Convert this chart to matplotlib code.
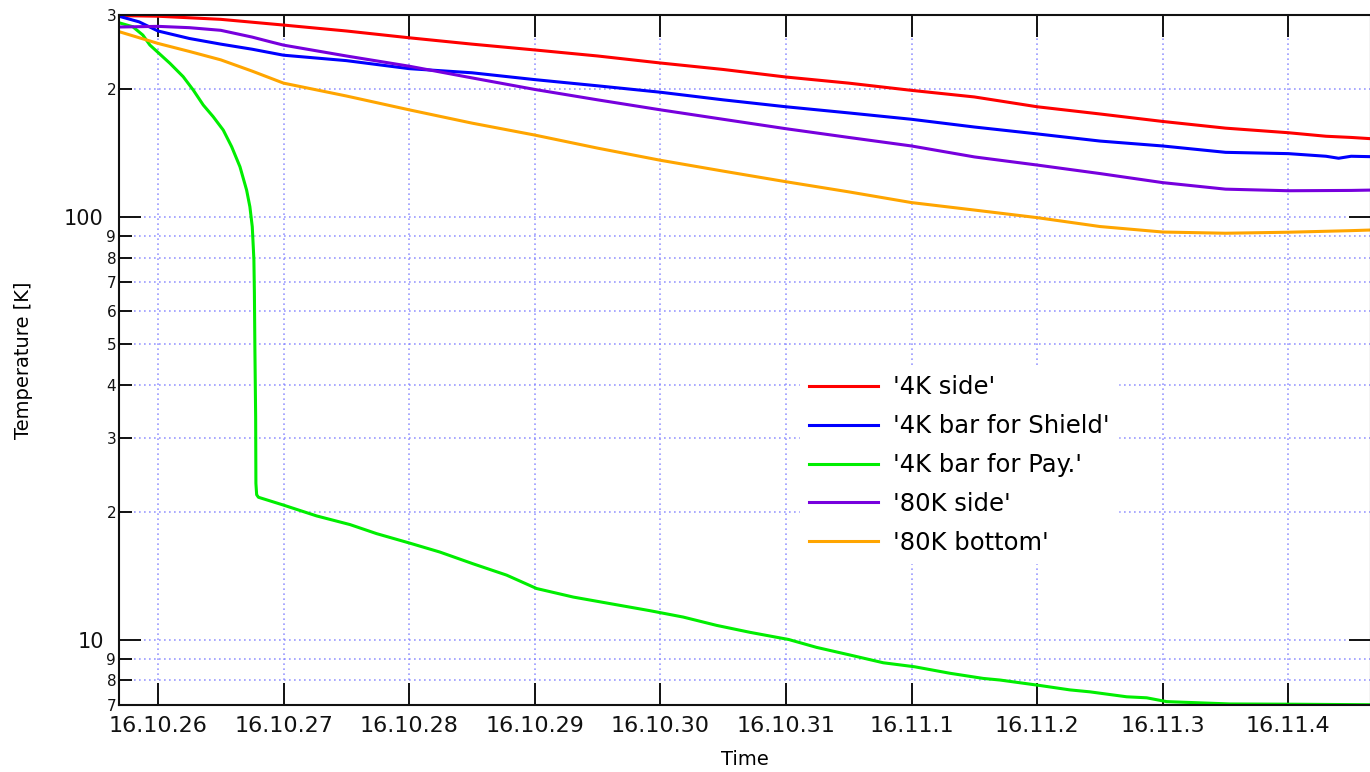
import numpy as np
import matplotlib
matplotlib.use("Agg")
import matplotlib.pyplot as plt
from matplotlib.ticker import FixedLocator, FixedFormatter

plt.rcParams['font.family'] = ['DejaVu Sans']

# time in days counted from 16.10.26 00:00, temperatures in K
day_labels = ["16.10.26", "16.10.27", "16.10.28", "16.10.29", "16.10.30",
              "16.10.31", "16.11.1", "16.11.2", "16.11.3", "16.11.4"]

t_4k_side = [-0.31, 0, 0.5, 1, 1.5, 2, 2.5, 3, 3.5, 4, 4.5, 5, 5.5, 6, 6.5,
             7, 7.5, 8, 8.5, 9, 9.3, 9.5, 9.65]
T_4k_side = [299, 298, 293, 284, 275, 265, 256, 248, 240, 231, 223, 214, 207,
             199, 192, 182, 175, 168, 162, 158, 155, 154, 153]

t_shield = [-0.31, -0.15, 0, 0.25, 0.5, 0.75, 1, 1.5, 2, 2.5, 3, 3.5, 4, 4.5,
            5, 5.5, 6, 6.5, 7, 7.5, 8, 8.5, 9, 9.3, 9.4, 9.5, 9.65]
T_shield = [298, 289, 275, 264, 256, 249, 241, 234, 224, 219, 211, 204, 197,
            189, 182, 176, 170, 163, 157, 151, 147, 142, 141, 139, 137.5, 139, 138.7]

t_pay = [-0.31, -0.2, -0.12, -0.064, 0.096, 0.201, 0.281, 0.361, 0.44, 0.52,
         0.587, 0.653, 0.706, 0.732, 0.751, 0.759, 0.764, 0.768, 0.772, 0.778,
         0.780, 0.786, 0.80, 0.865, 0.998, 1.264, 1.529,
         1.741, 2.006, 2.245, 2.510, 2.776, 3.015, 3.307, 3.572, 3.917, 4.182,
         4.448, 4.713, 5.022, 5.244, 5.510, 5.775, 6.025, 6.306, 6.571, 6.704,
         7.028, 7.261, 7.420, 7.713, 7.872, 8.031, 8.535, 9.039, 9.65]
T_pay = [287.6, 281.4, 268.9, 254.7, 230.5, 214.4, 199.4, 183.7, 172.4, 160.3,
         146.4, 131.3, 115.6, 105.6, 94.7, 84.9, 79.0, 66.0, 48.4, 33.6,
         23.4, 22.0, 21.7, 21.4, 20.8, 19.6, 18.7,
         17.8, 16.9, 16.1, 15.1, 14.2, 13.2, 12.6, 12.2, 11.7, 11.3,
         10.8, 10.4, 10.0, 9.58, 9.19, 8.81, 8.62, 8.32, 8.09, 8.02,
         7.78, 7.60, 7.52, 7.32, 7.28, 7.13, 7.04, 7.03, 7.01]

t_80k_side = [-0.31, 0, 0.25, 0.5, 0.75, 0.892, 1, 1.5, 2, 2.5, 3, 3.5, 4, 4.5,
              5, 5.5, 6, 6.5, 7, 7.5, 8, 8.5, 9, 9.5, 9.65]
T_80k_side = [281, 282, 280, 276, 266, 259.4, 254.6, 240, 227, 213, 200, 189,
              179, 170, 161.5, 154, 147, 138.5, 132.5, 126.5, 120.4, 116.2,
              115.2, 115.4, 115.6]

t_80k_bottom = [-0.31, 0, 0.25, 0.5, 0.75, 1, 1.5, 2, 2.5, 3, 3.5, 4, 4.5, 5,
                5.5, 6, 6.5, 7, 7.5, 8, 8.5, 9, 9.5, 9.65]
T_80k_bottom = [274, 257, 246, 235, 221, 207, 193, 179, 166.5, 156, 145.3,
                136, 128.2, 121, 114.5, 108, 103.7, 99.5, 94.8, 92, 91.4, 91.9,
                92.7, 93]

y_major = [10, 100]
y_major_labels = ["10", "100"]
y_minor = [7, 8, 9, 20, 30, 40, 50, 60, 70, 80, 90, 200, 300]
y_minor_labels = ["7", "8", "9", "2", "3", "4", "5", "6", "7", "8", "9", "2", "3"]

fig = plt.figure(figsize=(13.7, 7.72), dpi=100)
ax = fig.add_axes([119 / 1370, 1 - 705 / 772, 1252 / 1370, 690 / 772])

ax.plot(t_4k_side, T_4k_side, color='#ff0000', lw=2.2, label="'4K side'")
ax.plot(t_shield, T_shield, color='#0000ff', lw=2.2, label="'4K bar for Shield'")
ax.plot(t_pay, T_pay, color='#00ee00', lw=2.2, label="'4K bar for Pay.'")
ax.plot(t_80k_side, T_80k_side, color='#7700dd', lw=2.2, label="'80K side'")
ax.plot(t_80k_bottom, T_80k_bottom, color='#ffa500', lw=2.2, label="'80K bottom'")

ax.set_yscale('log')
ax.set_ylim(7, 300)
ax.set_xlim(-0.31, 9.658)

ax.set_xticks(np.arange(len(day_labels)))
ax.set_xticklabels(day_labels, fontsize=16)
ax.yaxis.set_major_locator(FixedLocator(y_major))
ax.yaxis.set_major_formatter(FixedFormatter(y_major_labels))
ax.yaxis.set_minor_locator(FixedLocator(y_minor))
ax.yaxis.set_minor_formatter(FixedFormatter(y_minor_labels))

ax.tick_params(axis='x', which='major', direction='in', length=16, width=1.4,
               top=True, pad=8, colors='#111111')
ax.tick_params(axis='y', which='major', direction='in', length=16, width=1.4,
               right=True, labelsize=15, pad=11, colors='#111111')
ax.tick_params(axis='y', which='minor', direction='in', length=9, width=1.4,
               labelsize=11, pad=2, colors='#111111')
for lab in ax.get_yticklabels():
    lab.set_verticalalignment('center_baseline')

ax.grid(True, which='both', color='#8080ff', alpha=0.8, linestyle=(0, (1, 2)), lw=1.2)
for s in ax.spines.values():
    s.set_linewidth(1.5)
    s.set_color('#111111')

ax.set_xlabel("Time", fontsize=14, labelpad=10)
ax.set_ylabel("Temperature [K]", fontsize=14, labelpad=22)

leg = ax.legend(loc='upper left', bbox_to_anchor=(0.544, 0.49), fontsize=17.5,
                frameon=True, fancybox=False, framealpha=1, edgecolor='white',
                handlelength=2.84, handletextpad=0.62, labelspacing=0.61,
                borderpad=0.35, borderaxespad=0)

fig.savefig("out.png", dpi=100)
